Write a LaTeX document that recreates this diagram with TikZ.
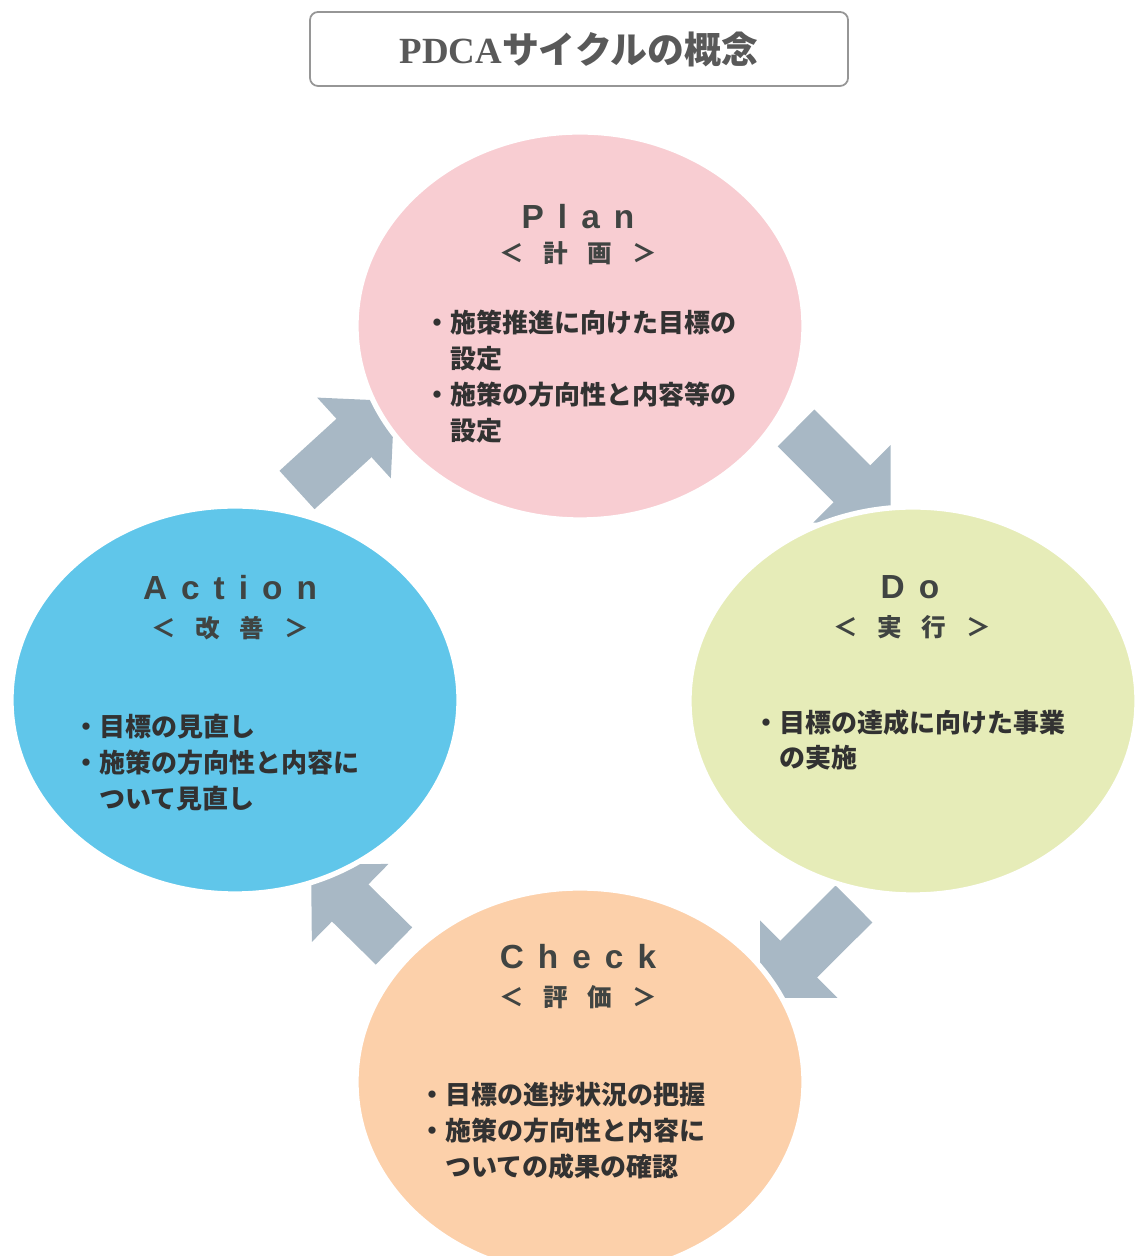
\documentclass[tikz,border=0pt]{standalone}
\usepackage{fontspec}
\setmainfont{Liberation Sans}
\newfontfamily\jpfont{Noto Sans CJK JP}
\newfontfamily\hdfont[LetterSpace=42]{Liberation Sans}
\newfontfamily\subfont[LetterSpace=80]{Noto Sans CJK JP}
\newfontfamily\ttlfont{Liberation Serif}
\usetikzlibrary{arrows.meta,shapes.geometric,backgrounds}

\definecolor{planpink}{RGB}{248,205,210}
\definecolor{dogreen}{RGB}{230,236,184}
\definecolor{chkorange}{RGB}{252,208,170}
\definecolor{actblue}{RGB}{96,198,234}
\definecolor{arrowgray}{RGB}{168,184,197}
\definecolor{headgray}{RGB}{64,68,66}
\definecolor{bodygray}{RGB}{50,50,50}
\definecolor{framegray}{RGB}{150,150,150}

\tikzset{
  phase/.style={ellipse, minimum width=8.96cm, minimum height=7.76cm, inner sep=0pt, draw=white, line width=3pt},
  cyclearrow/.style={line width=1.04cm, draw=arrowgray, -{Triangle[width=2.12cm,length=1.1cm]}, shorten >=-0.44cm},
  head/.style={font=\hdfont\bfseries\fontsize{19}{22}\selectfont, text=headgray},
  sub/.style={font=\subfont\bfseries\fontsize{14}{16}\selectfont, text=headgray},
  body/.style={anchor=north west, inner sep=0pt, align=left, font=\jpfont\bfseries\fontsize{14.8}{20.4}\selectfont, text=bodygray}
}

\begin{document}
\begin{tikzpicture}
  \useasboundingbox (0,0) rectangle (22.68,25.12);

  % title
  \node[draw=framegray, line width=1pt, rounded corners=0.16cm, minimum width=10.76cm, minimum height=1.48cm, text=black!65]
    (title) at (11.58,24.14) {\bfseries\fontsize{21}{24}\selectfont\ttlfont PDCA\jpfont サイクルの概念};

  % the four phases
  \node[phase, fill=planpink] (plan) at (11.60,18.60) {};
  \node[phase, fill=dogreen] (do) at (18.26,11.10) {};
  \node[phase, fill=chkorange] (chk) at (11.60,3.48) {};
  \node[phase, fill=actblue] (act) at (4.70,11.12) {};

  % arrows between the phases
  \coordinate (t1) at (5.94,15.32);
  \coordinate (t2) at (15.92,16.56);
  \coordinate (t3) at (17.08,7.04);
  \coordinate (t4) at (7.88,6.20);
  \begin{scope}[on background layer]
    \draw[cyclearrow] (t1) -- (plan.204);
    \draw[cyclearrow] (t2) -- (do.101);
    \draw[cyclearrow] (t3) -- (chk.27);
    \draw[cyclearrow] (t4) -- (act.297);
  \end{scope}

  % Plan
  \node[head] (planhd) at (11.56,20.78) {Plan};
  \node[sub] (plansub) at (11.56,20.06) {＜計画＞};
  \node[body] (plantx) at (8.48,18.92) {・施策推進に向けた目標の\\\hspace*{1em}設定\\・施策の方向性と内容等の\\\hspace*{1em}設定};

  % Do
  \node[head] (dohd) at (18.20,13.38) {Do};
  \node[sub] (dosub) at (18.24,12.58) {＜実行＞};
  \node[body] (dotx) at (15.06,10.94) {・目標の達成に向けた事業\\\hspace*{1em}の実施};

  % Check
  \node[head] (chkhd) at (11.56,5.98) {Check};
  \node[sub] (chksub) at (11.56,5.18) {＜評価＞};
  \node[body] (chktx) at (8.38,3.48) {・目標の進捗状況の把握\\・施策の方向性と内容に\\\hspace*{1em}ついての成果の確認};

  % Action
  \node[head] (acthd) at (4.60,13.36) {Action};
  \node[sub] (actsub) at (4.60,12.56) {＜改善＞};
  \node[body] (acttx) at (1.46,10.84) {・目標の見直し\\・施策の方向性と内容に\\\hspace*{1em}ついて見直し};
\end{tikzpicture}
\end{document}
